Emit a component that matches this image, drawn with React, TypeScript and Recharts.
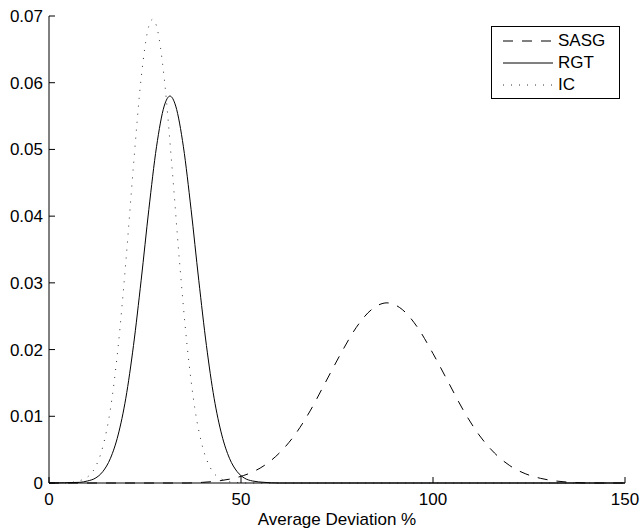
import { LineChart, Line, XAxis, YAxis, Legend, Label } from "recharts";

// values
const sasgX = [0, 36, 40, 44, 48, 52, 56, 60, 64, 68, 72, 76, 80, 84, 88, 92, 96, 100, 104, 108, 112, 116, 120, 124, 128, 132, 136, 140, 150];
const sasgY = [0, 0, 0.0001, 0.0003, 0.0007, 0.0014, 0.0026, 0.0045, 0.0072, 0.0108, 0.0151, 0.0194, 0.0233, 0.026, 0.027, 0.026, 0.0233, 0.0194, 0.0151, 0.0108, 0.0072, 0.0045, 0.0026, 0.0014, 0.0007, 0.0003, 0.0001, 0, 0];

const rgtX = [0, 8, 10, 12, 14, 16, 18, 20, 22, 24, 26, 28, 30, 31.5, 33, 35, 37, 39, 41, 43, 45, 47, 49, 51, 53, 56, 60, 150];
const rgtY = [0, 0.0001, 0.0003, 0.0007, 0.0017, 0.0037, 0.0072, 0.0127, 0.0206, 0.0304, 0.041, 0.0504, 0.0565, 0.058, 0.0565, 0.0504, 0.041, 0.0304, 0.0206, 0.0127, 0.0072, 0.0037, 0.0017, 0.0007, 0.0003, 0.0001, 0, 0];

const icX = [0, 4, 6, 10, 12, 14, 16, 18, 20, 22, 24, 26, 27, 28, 30, 32, 34, 36, 38, 40, 42, 44, 48, 52, 150];
const icY = [0, 0, 0.0001, 0.0009, 0.0023, 0.0054, 0.0111, 0.0204, 0.0331, 0.0476, 0.0607, 0.0685, 0.0695, 0.0685, 0.0607, 0.0476, 0.0331, 0.0204, 0.0111, 0.0054, 0.0023, 0.0009, 0.0001, 0, 0];

const xTicks = [0, 50, 100, 150];
const yTicks = [0, 0.01, 0.02, 0.03, 0.04, 0.05, 0.06, 0.07];

const toPoints = (xs: number[], ys: number[]) => xs.map((x, i) => ({ x, y: ys[i] }));

const sasgData = toPoints(sasgX, sasgY);
const rgtData = toPoints(rgtX, rgtY);
const icData = toPoints(icX, icY);

const series = [
  { name: "SASG", dash: "10 9", color: "#000" },
  { name: "RGT", dash: undefined, color: "#000" },
  { name: "IC", dash: "1 7", color: "#333" },
];

const font = "'Liberation Sans', Arial, sans-serif";

function LegendBox() {
  return (
    <div
      style={{
        border: "1px solid #000",
        background: "#fff",
        width: 127,
        padding: "3px 0 2px 0",
        fontFamily: font,
        fontSize: 17,
      }}
    >
      {series.map((s) => (
        <div key={s.name} style={{ display: "flex", alignItems: "center", height: 22 }}>
          <svg width={66} height={22} style={{ flex: "none" }}>
            <line x1={11} x2={61} y1={11} y2={11} stroke={s.color} strokeWidth={1} strokeDasharray={s.dash} />
          </svg>
          <span style={{ lineHeight: "22px", color: "#000" }}>{s.name}</span>
        </div>
      ))}
    </div>
  );
}

export default function App() {
  const tickStyle = { fill: "#000", fontSize: 17, fontFamily: font };
  return (
    <div style={{ position: "absolute", left: 0, top: 0, background: "#fff" }}>
      <LineChart width={641} height={529} margin={{ top: 16, right: 16, left: 0, bottom: 0 }}>
        <XAxis
          xAxisId="bottom"
          dataKey="x"
          type="number"
          domain={[0, 150]}
          ticks={xTicks}
          allowDuplicatedCategory={false}
          height={46}
          tickSize={-6}
          tickMargin={16}
          tick={tickStyle}
          axisLine={{ stroke: "#000" }}
          tickLine={{ stroke: "#000" }}
        >
          <Label
            value="Average Deviation %"
            position="insideBottom"
            offset={4}
            style={{ fill: "#000", fontSize: 17, fontFamily: font }}
          />
        </XAxis>
        <XAxis
          xAxisId="top"
          orientation="top"
          dataKey="x"
          type="number"
          domain={[0, 150]}
          ticks={xTicks}
          height={0}
          tickSize={-6}
          tick={false}
          axisLine={{ stroke: "#000" }}
          tickLine={{ stroke: "#000" }}
        />
        <YAxis
          yAxisId="left"
          type="number"
          domain={[0, 0.07]}
          ticks={yTicks}
          width={49}
          tickSize={-6}
          tickMargin={12}
          tick={tickStyle}
          axisLine={{ stroke: "#000" }}
          tickLine={{ stroke: "#000" }}
        />
        <YAxis
          yAxisId="right"
          orientation="right"
          type="number"
          domain={[0, 0.07]}
          ticks={yTicks}
          width={0}
          tickSize={-6}
          tick={false}
          axisLine={{ stroke: "#000" }}
          tickLine={{ stroke: "#000" }}
        />
        <Line
          xAxisId="bottom"
          yAxisId="left"
          data={sasgData}
          dataKey="y"
          name="SASG"
          type="monotone"
          stroke="#000"
          strokeWidth={1}
          strokeDasharray="10 9"
          dot={false}
          activeDot={false}
          isAnimationActive={false}
        />
        <Line
          xAxisId="bottom"
          yAxisId="left"
          data={rgtData}
          dataKey="y"
          name="RGT"
          type="monotone"
          stroke="#000"
          strokeWidth={1}
          dot={false}
          activeDot={false}
          isAnimationActive={false}
        />
        <Line
          xAxisId="bottom"
          yAxisId="left"
          data={icData}
          dataKey="y"
          name="IC"
          type="monotone"
          stroke="#333"
          strokeWidth={1}
          strokeDasharray="1 7"
          dot={false}
          activeDot={false}
          isAnimationActive={false}
        />
        <Legend
          layout="vertical"
          align="center"
          verticalAlign="middle"
          content={() => <LegendBox />}
          wrapperStyle={{ position: "absolute", left: 491, top: 26, width: "auto", bottom: "auto", right: "auto" }}
        />
      </LineChart>
    </div>
  );
}
